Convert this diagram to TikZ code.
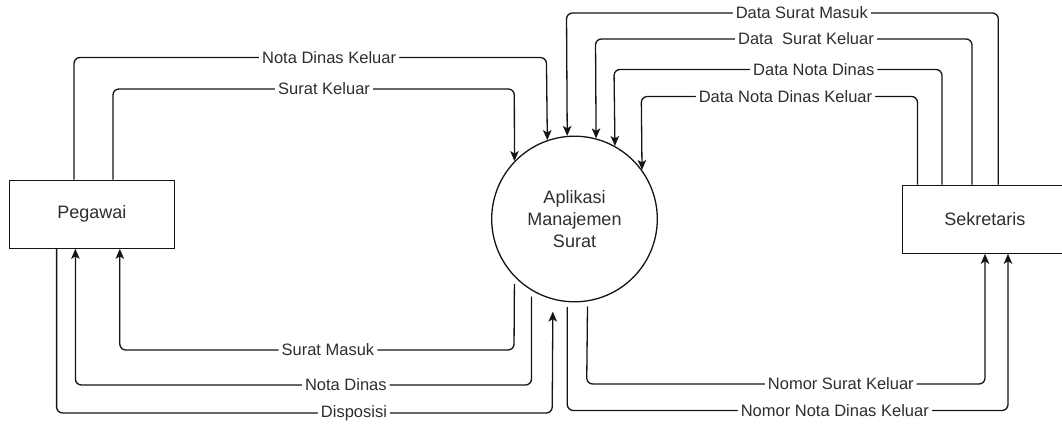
\documentclass[tikz,border=0pt]{standalone}
\usepackage{fontspec}
\setmainfont{Liberation Sans}
\usetikzlibrary{arrows.meta}
\definecolor{ink}{HTML}{141414}
\definecolor{txt}{HTML}{2E2E2E}
\tikzset{
  entity/.style={draw=ink, line width=1.3pt, fill=white, minimum width=165pt,
    minimum height=68pt, inner sep=0pt, text=txt,
    font=\fontsize{18}{22}\selectfont},
  process/.style={draw=ink, line width=1.3pt, circle, minimum size=165.6pt,
    inner sep=0pt, text=txt, align=center,
    font=\fontsize{18}{22}\selectfont},
  flow/.style={draw=ink, line width=1.3pt, rounded corners=6pt,
    -{Stealth[length=10pt,width=8.5pt,inset=2.5pt]}},
  lbl/.style={fill=white, text=txt, inner xsep=3pt, inner ysep=1pt,
    font=\fontsize{16.5}{19}\selectfont}
}
\begin{document}
\begin{tikzpicture}[x=1pt, y=-1pt]
\useasboundingbox (0,0) rectangle (1062,425);
\clip (0,0) rectangle (1062,425);

% external entities and the central process
\node[entity] (peg) at (91.8,214.2) {Pegawai};
\node[entity] (sek) at (984.8,219.2) {Sekretaris};
\node[process] (app) at (574.5,219) {Aplikasi\\Manajemen\\Surat};

% Pegawai -> process
\draw[flow] ([xshift=-17.8pt]peg.north) -- (74,57.5)
  -- node[lbl,pos=0.540] (l1) {Nota Dinas Keluar} (546.4,57.5) -- (app.109.84);
\draw[flow] ([xshift=21.2pt]peg.north) -- (113,89)
  -- node[lbl,pos=0.526] (l2) {Surat Keluar} (514.3,89) -- (app.136.65);

% Sekretaris -> process
\draw[flow] ([xshift=13.5pt]sek.north) -- (998.3,13)
  -- node[lbl,pos=0.455] (l3) {Data Surat Masuk} (566.5,13) -- (app.95.54);
\draw[flow] ([xshift=-12.8pt]sek.north) -- (972,39)
  -- node[lbl,pos=0.441] (l4) {Data\ \ Surat Keluar} (595.5,39) -- (app.75.31);
\draw[flow] ([xshift=-42.8pt]sek.north) -- (942,69.5)
  -- node[lbl,pos=0.391] (l5) {Data Nota Dinas} (614,69.5) -- (app.61.50);
\draw[flow] ([xshift=-67.3pt]sek.north) -- (917.5,96.5)
  -- node[lbl,pos=0.478] (l6) {Data Nota Dinas Keluar} (641.3,96.5) -- (app.36.21);

% process -> Pegawai
\draw[flow, shorten <=7pt] (app.-136.9) -- (514,350)
  -- node[lbl,pos=0.472] (l7) {Surat Masuk} (119.8,350) -- ([xshift=28pt]peg.south);
\draw[flow, shorten <=6pt] (app.-121.3) -- (531.5,385)
  -- node[lbl,pos=0.407] (l8) {Nota Dinas} (75.4,385) -- ([xshift=-16.4pt]peg.south);

% Pegawai -> process (disposition)
\draw[flow, shorten >=12pt] ([xshift=-35.2pt]peg.south) -- (56.6,413)
  -- node[lbl,pos=0.600] (l9) {Disposisi} (552.2,413) -- (app.-105.62);

% process -> Sekretaris
\draw[flow, shorten <=5pt] (app.-81.5) -- (586.7,384)
  -- node[lbl,pos=0.638] (l10) {Nomor Surat Keluar} (985,384) -- ([xshift=0.2pt]sek.south);
\draw[flow, shorten <=5pt] (app.-95) -- (567.3,410.5)
  -- node[lbl,pos=0.607] (l11) {Nomor Nota Dinas Keluar} (1008,410.5) -- ([xshift=23.2pt]sek.south);
\end{tikzpicture}
\end{document}
